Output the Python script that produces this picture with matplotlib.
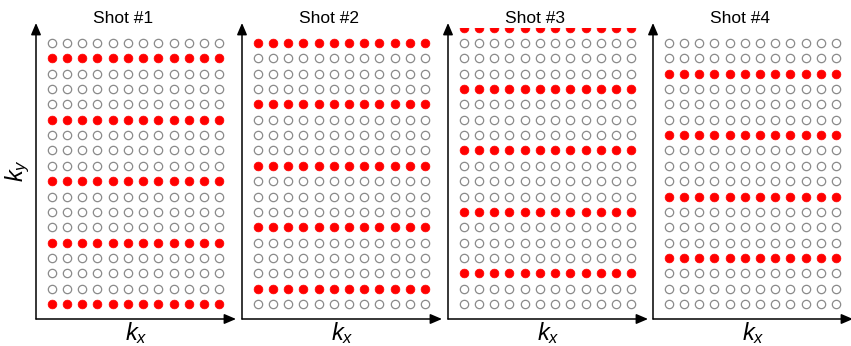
import matplotlib
matplotlib.use('Agg')
import matplotlib.pyplot as plt

plt.rcParams['font.family'] = ['Liberation Sans', 'DejaVu Sans']
plt.rcParams['mathtext.fontset'] = 'custom'
plt.rcParams['mathtext.it'] = 'Liberation Sans:italic'
plt.rcParams['mathtext.rm'] = 'Liberation Sans'

# k-space sampling per shot
shot_titles = ['Shot #1', 'Shot #2', 'Shot #3', 'Shot #4']
n_cols = 12
last_row = 17
first_row = [0, 0, -1, 0]           # shot 3 has one extra line at the top edge
red_rows = [[1, 5, 9, 13, 17],
            [0, 4, 8, 12, 16],
            [-1, 3, 7, 11, 15],
            [2, 6, 10, 14]]

W, H = 851, 346
fig = plt.figure(figsize=(W / 100, H / 100), dpi=100)

x0s = [36, 242, 448, 653]   # y-axis positions in px
ax_w = 200
bottom_px = 319
top_px = 27.7
row0_px = 43
row_dy = 15.35
col0_off = 15.5
col_dx = 15.25

for k in range(4):
    x0 = x0s[k]
    ax = fig.add_axes([x0 / W, (H - bottom_px) / H, ax_w / W, (bottom_px - top_px) / H])
    rows = list(range(first_row[k], last_row + 1))
    cols = list(range(n_cols))
    for r in rows:
        if r in red_rows[k]:
            ax.plot(cols, [r] * n_cols, 'o', ms=6.3, mfc='#ff0000', mec='#ff0000', mew=0.5, ls='none')
        else:
            ax.plot(cols, [r] * n_cols, 'o', ms=6.0, mfc='white', mec='#8a8a8a', mew=0.9, ls='none')
    ax.set_xlim(-col0_off / col_dx, (ax_w - col0_off) / col_dx)
    ax.set_ylim((bottom_px - row0_px) / row_dy, -1)
    ax.axis('off')

    # axis arrows
    tip = 1 + 4.7 / (bottom_px - top_px)
    arr = dict(arrowstyle='-|>,head_length=0.7,head_width=0.3', color='black', lw=1.1,
               shrinkA=0, shrinkB=0, mutation_scale=10)
    ax.annotate('', xy=(1, 0), xytext=(0, 0), xycoords='axes fraction', arrowprops=arr,
                annotation_clip=False)
    ax.annotate('', xy=(0, tip), xytext=(0, 0), xycoords='axes fraction', arrowprops=arr,
                annotation_clip=False)

    fig.text((x0 + 87) / W, (H - 23) / H, shot_titles[k], ha='center', va='baseline',
             fontsize=12.5)
    fig.text((x0 + ax_w / 2) / W, (H - 340) / H, '$k_x$', ha='center', va='baseline',
             fontsize=17)

fig.text(18 / W, (H - 171) / H, '$k_y$', ha='center', va='center', rotation=90, fontsize=17)

plt.savefig('out.png', dpi=100)
